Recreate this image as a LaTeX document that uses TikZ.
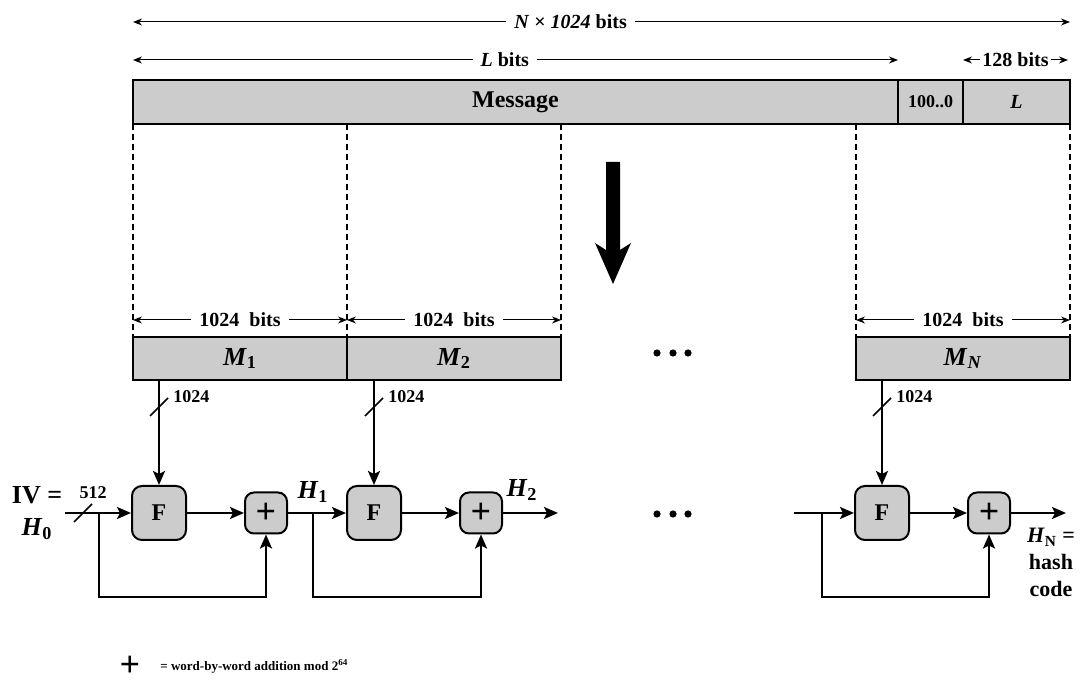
\documentclass[tikz,border=0pt]{standalone}
\usepackage{fontspec}
\setmainfont{Liberation Serif}
\usetikzlibrary{positioning, arrows.meta}

\begin{document}
\begin{tikzpicture}[
    x=0.5pt, y=-0.5pt, % one unit = one pixel of the sketch, y grows downwards
    every node/.style={font=\bfseries},
    bar/.style={draw, line width=1pt, fill=black!20, minimum height=22pt, inner sep=0pt, outer sep=0pt},
    block/.style={draw, line width=1pt, fill=black!20, minimum width=107pt, minimum height=21.5pt, inner sep=0pt, outer sep=0pt, font=\fontsize{13}{15}\selectfont\bfseries},
    fbox/.style={draw, line width=1pt, fill=black!20, rounded corners=5pt, minimum size=27pt, inner sep=0pt, font=\fontsize{12}{14}\selectfont\bfseries},
    addbox/.style={draw, line width=1pt, fill=black!20, rounded corners=4.5pt, minimum width=21pt, minimum height=20.5pt, inner sep=0pt, font=\fontsize{18}{18}\selectfont\bfseries},
    conn/.style={line width=1.2pt, -{Stealth[length=7pt, width=6pt, inset=1.5pt]}},
    dim/.style={line width=0.5pt, {Stealth[length=4.5pt, width=3.5pt]}-{Stealth[length=4.5pt, width=3.5pt]}},
    dimlabel/.style={fill=white, inner xsep=4pt, inner ysep=1pt, font=\fontsize{10}{12}\selectfont\bfseries},
    cut/.style={line width=1pt, dash pattern=on 3pt off 2pt},
    slash/.style={line width=0.8pt},
    width/.style={font=\fontsize{9}{11}\selectfont\bfseries, anchor=west, inner sep=0pt},
    hlabel/.style={font=\fontsize{13}{15}\selectfont\bfseries, inner sep=0pt},
]
    \useasboundingbox (0,0) rectangle (1082,683);

    % padded message
    \node[bar, minimum width=382.5pt, font=\fontsize{12}{14}\selectfont\bfseries] (msg) at (515.5,102) {Message};
    \node[bar, minimum width=32.5pt, font=\fontsize{9}{11}\selectfont\bfseries] (pad) [right=0pt of msg] {100..0};
    \node[bar, minimum width=53.5pt, font=\fontsize{10}{12}\selectfont\bfseries] (len) [right=0pt of pad] {\textit{L}};

    % sizes above the message
    \draw[dim] (msg.north west |- 0,22) -- (len.north east |- 0,22)
        node[dimlabel, pos=0.467] {\textit{N} × \textit{1024} bits};
    \draw[dim] (msg.north west |- 0,60) -- (msg.north east |- 0,60)
        node[dimlabel, pos=0.486] {\textit{L} bits};
    \draw[dim] (len.north west |- 0,60) -- ([xshift=-1pt]len.north east |- 0,60)
        node[dimlabel, inner xsep=1pt, midway] {128 bits};

    % the blocks
    \node[block] (m1) at (240,358.5) {\textit{M}\textsubscript{1}};
    \node[block] (m2) [right=0pt of m1] {\textit{M}\textsubscript{2}};
    \node[block] (mn) at (963,358.5) {\textit{M}\textsubscript{\textit{N}}};

    % dashed cuts from the message down to the blocks
    \draw[cut] (msg.south west) -- (m1.north west);
    \draw[cut] (m1.north east |- msg.south) -- (m1.north east);
    \draw[cut] (m2.north east |- msg.south) -- (m2.north east);
    \draw[cut] (mn.north west |- msg.south) -- (mn.north west);
    \draw[cut] (len.south east) -- (mn.north east);

    \foreach \blk in {m1, m2, mn}
        \draw[dim] ([yshift=8.5pt]\blk.north west) -- ([yshift=8.5pt]\blk.north east)
            node[dimlabel, midway] {1024\enspace bits};

    % big arrow
    \fill (606,162) -- (620,162) -- (620,250) -- (631,243) -- (613,284) -- (595,243) -- (606,250) -- cycle;

    % dots
    \foreach \x in {657,673,688} {
        \fill (\x,353) circle (1.8pt);
        \fill (\x,514) circle (1.8pt);
    }

    % compression stages
    \node[fbox] (f1) at (159,513) {F};
    \node[addbox] (p1) at (266,513) {+};
    \node[fbox] (f2) at (374,513) {F};
    \node[addbox] (p2) at (481,513) {+};
    \node[fbox] (fn) at (882,513) {F};
    \node[addbox] (pn) at (989,513) {+};

    \foreach \blk/\fun in {m1/f1, m2/f2, mn/fn} {
        \draw[conn] (\blk.south -| \fun) -- (\fun.north);
        \draw[slash] ([shift={(-9,36)}]\blk.south -| \fun) -- ++(18,-18);
        \node[width] at ([shift={(14,17)}]\blk.south -| \fun) {1024};
    }

    \coordinate (iv) at (65,513);
    \coordinate (b1) at (99,513);
    \coordinate (b2) at (313,513);
    \coordinate (h2) at (558,513);
    \coordinate (in3) at (794,513);
    \coordinate (b3) at (822,513);
    \coordinate (hn) at (1066,513);

    \node[hlabel, align=center] (ivl) at (37,513) {IV =\\[1pt]\textit{H}\textsubscript{0}};
    \draw[slash] (74,522) -- (92,504);
    \node[width, anchor=center] at (93,493) {512};

    \draw[conn] (iv) -- (f1.west);
    \draw[conn] (f1.east) -- (p1.west);
    \draw[conn] (b1) -- ++(0,84) -| (p1.south);
    \draw[conn] (p1.east) -- (f2.west);
    \draw[conn] (f2.east) -- (p2.west);
    \draw[conn] (b2) -- ++(0,84) -| (p2.south);
    \draw[conn] (p2.east) -- (h2);
    \draw[conn] (in3) -- (fn.west);
    \draw[conn] (fn.east) -- (pn.west);
    \draw[conn] (b3) -- ++(0,84) -| (pn.south);
    \draw[conn] (pn.east) -- (hn);

    \node[hlabel] at (313,492) {\textit{H}\textsubscript{1}};
    \node[hlabel] at (522,490) {\textit{H}\textsubscript{2}};
    \node[hlabel, align=center, anchor=north, font=\fontsize{11}{13.5}\selectfont\bfseries] at (1051,528)
        {\textit{H}\textsubscript{N} =\\hash\\code};

    % legend
    \node[font=\fontsize{18}{18}\selectfont\bfseries, inner sep=0pt] (plus) at (130,666) {+};
    \node[anchor=west, inner sep=0pt, font=\fontsize{6.5}{8}\selectfont\bfseries] at (160,666)
        {= word-by-word addition mod 2\textsuperscript{64}};
\end{tikzpicture}
\end{document}
